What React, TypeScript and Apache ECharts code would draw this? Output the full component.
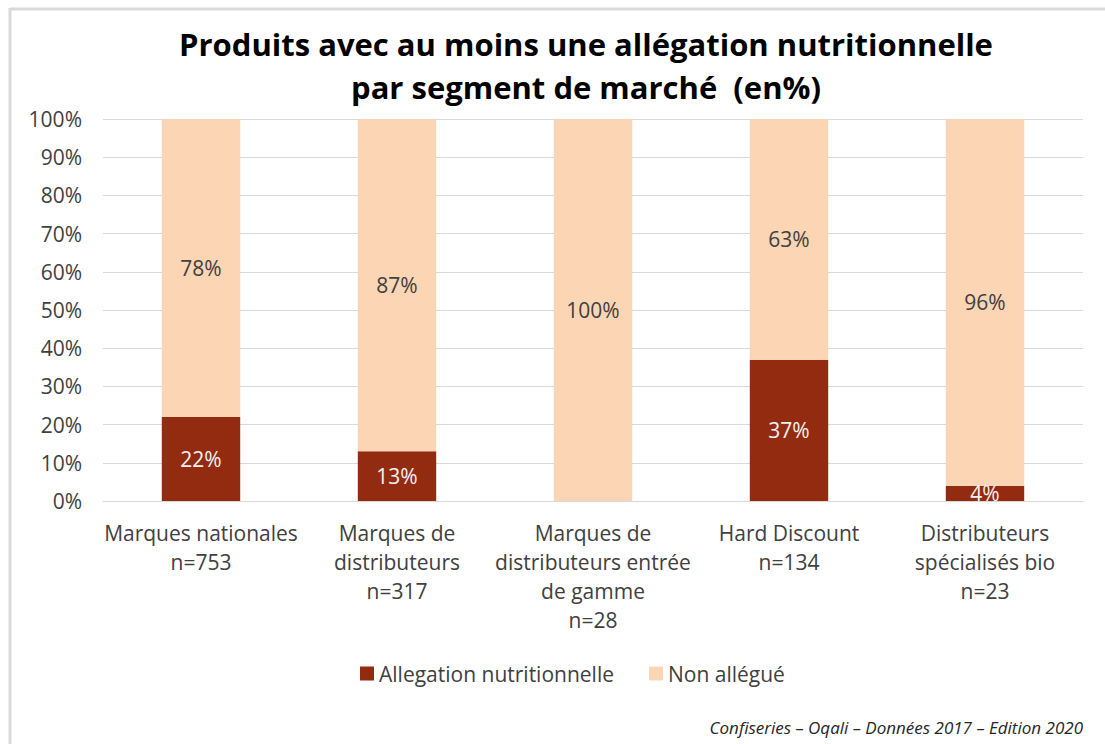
import React, { useEffect, useRef } from "react";
import * as echarts from "echarts";

const categories = [
  "Marques nationales\nn=753",
  "Marques de\ndistributeurs\nn=317",
  "Marques de\ndistributeurs entrée\nde gamme\nn=28",
  "Hard Discount\nn=134",
  "Distributeurs\nspécialisés bio\nn=23",
];
const allegation = [22, 13, 0, 37, 4];
const nonAllegue = [78, 87, 100, 63, 96];
const seriesNames = ["Allegation nutritionnelle", "Non allégué"];
const titleText = "Produits avec au moins une allégation nutritionnelle\npar segment de marché  (en%)";
const footerText = "Confiseries – Oqali – Données 2017 – Edition 2020";

const FONT = "'Open Sans', 'Noto Sans', sans-serif";
const FS = 21;

export default function App() {
  const ref = useRef<HTMLDivElement>(null);
  useEffect(() => {
    if (!ref.current) return;
    const chart = echarts.init(ref.current, null, { renderer: "svg" });
    const labelFmt = (p: any) => (p.value > 0 ? p.value + "%" : "");
    chart.setOption({
      animation: false,
      backgroundColor: "#ffffff",
      textStyle: { fontFamily: FONT },
      title: {
        text: titleText,
        left: 581,
        textAlign: "center",
        top: 17,
        textStyle: {
          fontFamily: FONT,
          fontWeight: "bold",
          fontSize: 31,
          lineHeight: 43,
          color: "#000000",
        },
      },
      legend: {
        bottom: 55,
        left: 355,
        itemWidth: 14,
        itemHeight: 14,
        itemGap: 35,
        icon: "rect",
        textStyle: { fontFamily: FONT, fontSize: FS, color: "#404040" },
        data: seriesNames,
      },
      grid: { left: 103, right: 22, top: 119, bottom: 243, containLabel: false },
      xAxis: {
        type: "category",
        data: categories,
        axisLine: { lineStyle: { color: "#d9d9d9", width: 1 } },
        axisTick: { show: false },
        axisLabel: {
          interval: 0,
          fontFamily: FONT,
          fontSize: FS,
          lineHeight: 29,
          color: "#404040",
          margin: 17,
        },
      },
      yAxis: {
        type: "value",
        min: 0,
        max: 100,
        interval: 10,
        axisLine: { show: false },
        axisTick: { show: false },
        splitLine: { lineStyle: { color: "#d9d9d9", width: 1 } },
        axisLabel: {
          formatter: "{value}%",
          fontFamily: FONT,
          fontSize: FS,
          color: "#404040",
          margin: 21,
        },
      },
      series: [
        {
          name: seriesNames[0],
          type: "bar",
          stack: "total",
          barWidth: "40%",
          data: allegation,
          itemStyle: { color: "#922B10" },
          label: {
            show: true,
            position: "inside",
            formatter: labelFmt,
            fontFamily: FONT,
            fontSize: FS,
            color: "#f2f2f2",
          },
        },
        {
          name: seriesNames[1],
          type: "bar",
          stack: "total",
          barWidth: "40%",
          data: nonAllegue,
          itemStyle: { color: "#FCD5B5" },
          label: {
            show: true,
            position: "inside",
            formatter: labelFmt,
            fontFamily: FONT,
            fontSize: FS,
            color: "#404040",
          },
        },
      ],
      graphic: [
        {
          type: "line",
          shape: { x1: 10, y1: 9, x2: 1105, y2: 9 },
          style: { stroke: "#d9d9d9", lineWidth: 3 },
          silent: true,
        },
        {
          type: "line",
          shape: { x1: 10, y1: 8, x2: 10, y2: 744 },
          style: { stroke: "#d9d9d9", lineWidth: 3 },
          silent: true,
        },
        {
          type: "text",
          right: 22,
          top: 719,
          style: {
            text: footerText,
            fontFamily: FONT,
            fontStyle: "italic",
            fontSize: 17,
            fill: "#262626",
          },
        },
      ],
    });
    return () => chart.dispose();
  }, []);
  return (
    <div
      ref={ref}
      style={{ position: "fixed", left: 0, top: 0, width: 1105, height: 744 }}
    />
  );
}
